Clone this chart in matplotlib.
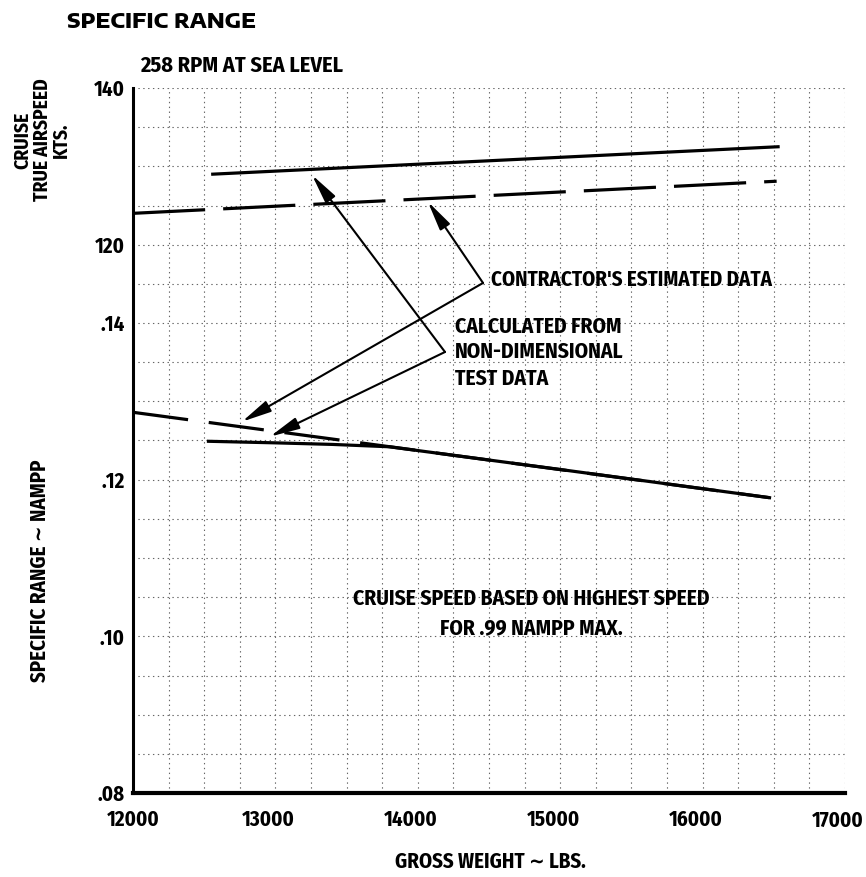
import numpy as np
import matplotlib
matplotlib.use("Agg")
import matplotlib.pyplot as plt
from matplotlib.transforms import ScaledTranslation

plt.rcParams["lines.scale_dashes"] = False
NARROW = ["Fira Sans Condensed", "DejaVu Sans"]
WIDE = ["Encode Sans Expanded", "DejaVu Sans"]

# gross weight (lbs) / cruise true airspeed (kts)
weight_speed_calc = [12560, 16530]
speed_calc = [129.0, 132.5]
weight_speed_est = [12000, 16520]
speed_est = [124.0, 128.1]

# gross weight (lbs) / specific range (NAMPP)
weight_sr_calc = [12530, 13000, 13400, 13800, 15000, 16470]
sr_calc = [0.1249, 0.1247, 0.1245, 0.1242, 0.1213, 0.1177]
weight_sr_est = [12000, 16470]
sr_est = [0.1286, 0.1177]

x_ticks = [12000, 13000, 14000, 15000, 16000, 17000]
sr_ticks = [0.08, 0.10, 0.12, 0.14]
sr_tick_labels = [".08", ".10", ".12", ".14"]
speed_ticks = [120, 140]

fig = plt.figure(figsize=(8.66, 8.77), dpi=100)
rect = [133 / 866, 1 - 793 / 877, 712 / 866, 705 / 877]
ax = fig.add_axes(rect)

lab_font = dict(family=NARROW, stretch="condensed", weight="bold", size=15)

ax.set_xlim(12000, 17000)
ax.set_ylim(0.08, 0.17)
ax.set_xticks(x_ticks)
ax.set_xticklabels([str(v) for v in x_ticks])
ax.set_yticks(sr_ticks)
ax.set_yticklabels(sr_tick_labels)
ax.set_xticks(np.arange(12000, 17001, 250), minor=True)
ax.set_yticks(np.arange(0.08, 0.1701, 0.005), minor=True)
ax.grid(which="both", color="#666666", linestyle=(0, (1, 2.5)), linewidth=0.8)
ax.tick_params(which="both", length=0)
ax.tick_params(axis="y", pad=6)
ax.tick_params(axis="x", pad=12)
for lab in ax.get_xticklabels() + ax.get_yticklabels():
    lab.set_fontproperties(lab_font)
# printed weight labels sit a little left of their grid lines
shift = ScaledTranslation(-7 / 100, 0, fig.dpi_scale_trans)
for lab in ax.get_xticklabels()[1:]:
    lab.set_transform(lab.get_transform() + shift)
for s in ["top", "right"]:
    ax.spines[s].set_visible(False)
ax.spines["left"].set_linewidth(2.2)
ax.spines["bottom"].set_linewidth(3)

# airspeed scale shares the same frame, labels on the left
ax2 = ax.twinx()
ax2.set_ylim(50, 140)
ax2.set_yticks(speed_ticks)
ax2.set_yticklabels([str(v) for v in speed_ticks])
ax2.yaxis.set_ticks_position("left")
ax2.yaxis.set_label_position("left")
ax2.tick_params(length=0, pad=6)
for lab in ax2.get_yticklabels():
    lab.set_fontproperties(lab_font)
for s in ax2.spines.values():
    s.set_visible(False)
ax2.patch.set_visible(False)

# curves
ax2.plot(weight_speed_calc, speed_calc, color="black", lw=2.3)
ax2.plot(weight_speed_est, speed_est, color="black", lw=2.3, linestyle=(0, (52, 13)))
ax.plot(weight_sr_calc, sr_calc, color="black", lw=2.3)
ax.plot(weight_sr_est, sr_est, color="black", lw=2.3, linestyle=(0, (40, 15)))

# annotation arrows
arrow = dict(arrowstyle="-|>,head_length=0.9,head_width=0.18", color="black",
             lw=1.5, shrinkA=0, shrinkB=0, mutation_scale=20)
contractor_pt = (14458, 0.14511)
calc_pt = (14191, 0.1363)
ax.annotate("", xy=(14070, 125.5), xycoords=ax2.transData,
            xytext=contractor_pt, textcoords=ax.transData, arrowprops=arrow)
ax.annotate("", xy=(12765, 0.1274), xycoords=ax.transData,
            xytext=contractor_pt, textcoords=ax.transData, arrowprops=arrow)
ax.annotate("", xy=(13257, 128.9), xycoords=ax2.transData,
            xytext=calc_pt, textcoords=ax.transData, arrowprops=arrow)
ax.annotate("", xy=(12962, 0.1255), xycoords=ax.transData,
            xytext=calc_pt, textcoords=ax.transData, arrowprops=arrow)

txt = dict(family=NARROW, stretch="condensed", weight="bold", fontsize=15.5, color="black")
ax.text(14514, 0.14549, "CONTRACTOR'S ESTIMATED DATA", ha="left", va="center",
        **{**txt, "fontsize": 15})
ax.text(14261, 0.1395, "CALCULATED FROM", ha="left", va="center", **txt)
ax.text(14261, 0.1363, "NON-DIMENSIONAL", ha="left", va="center", **txt)
ax.text(14261, 0.1329, "TEST DATA", ha="left", va="center", **txt)
ax.text(14795, 0.10477, "CRUISE SPEED BASED ON HIGHEST SPEED", ha="center", va="center", **txt)
ax.text(14795, 0.10106, "FOR .99 NAMPP MAX.", ha="center", va="center", **txt)

# titles and axis labels
fig.text(67 / 866, 1 - 22 / 877, "SPECIFIC RANGE", ha="left", va="center",
         fontsize=14.5, weight="heavy", stretch="expanded", family=WIDE)
fig.text(140 / 866, 1 - 66 / 877, "258 RPM AT SEA LEVEL", ha="left", va="center",
         **{**txt, "fontsize": 16})
fig.text(42 / 866, 1 - 140 / 877, "CRUISE\nTRUE AIRSPEED\nKTS.", rotation=90,
         ha="center", va="center", multialignment="center", linespacing=1.0,
         family=NARROW, stretch="condensed", weight="bold", fontsize=14)
fig.text(40 / 866, 1 - 571 / 877, "SPECIFIC RANGE \u223c NAMPP", rotation=90,
         ha="center", va="center", family=NARROW, stretch="condensed",
         weight="bold", fontsize=15)
fig.text(490 / 866, 1 - 862 / 877, "GROSS WEIGHT \u223c LBS.", ha="center", va="center",
         family=NARROW, stretch="condensed", weight="bold", fontsize=15)

fig.savefig("out.png", dpi=100, facecolor="white")
